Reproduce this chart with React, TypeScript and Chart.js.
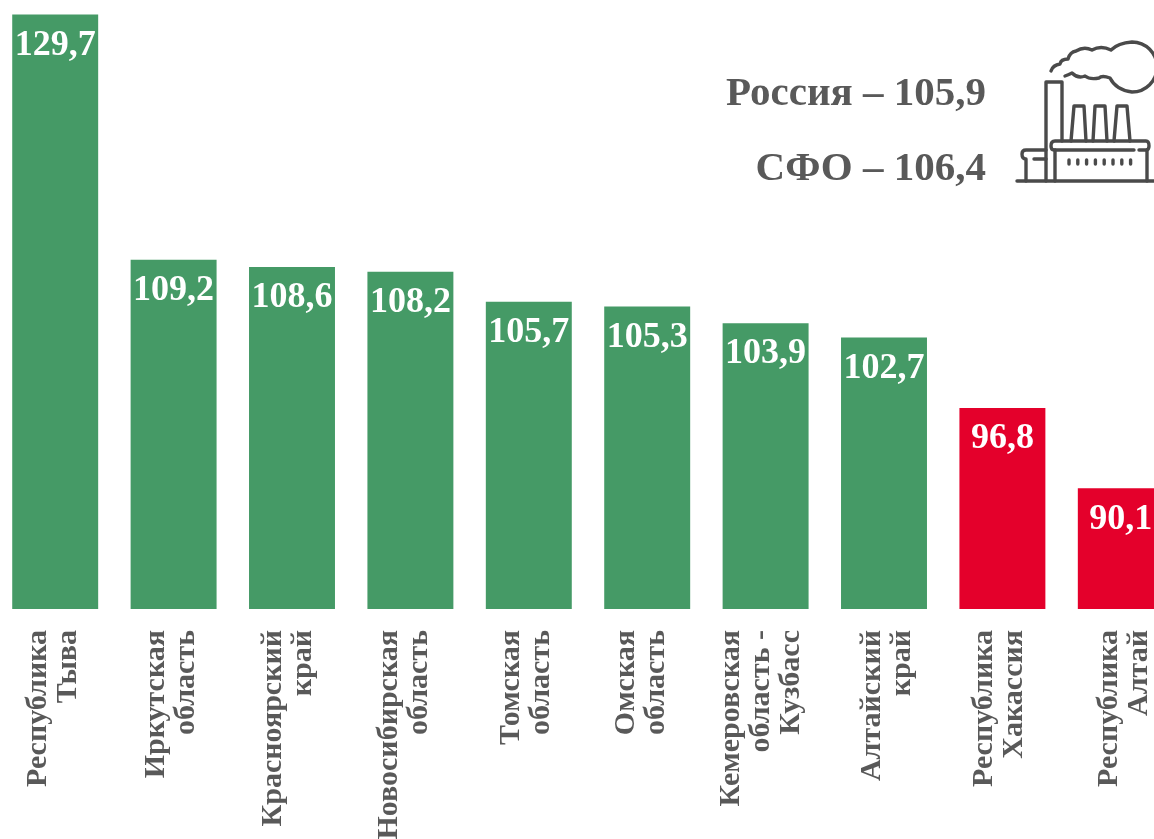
import React, { useEffect, useRef } from "react";
import { Chart, registerables } from "chart.js";

Chart.register(...registerables);

const categories: string[][] = [
  ["Республика", "Тыва"],
  ["Иркутская", "область"],
  ["Красноярский", "край"],
  ["Новосибирская", "область"],
  ["Томская", "область"],
  ["Омская", "область"],
  ["Кемеровская", "область -", "Кузбасс"],
  ["Алтайский", "край"],
  ["Республика", "Хакассия"],
  ["Республика", "Алтай"],
];
const values: number[] = [129.7, 109.2, 108.6, 108.2, 105.7, 105.3, 103.9, 102.7, 96.8, 90.1];
const barColors: string[] = [
  "#459A66", "#459A66", "#459A66", "#459A66", "#459A66",
  "#459A66", "#459A66", "#459A66", "#E4002B", "#E4002B",
];
const notes: string[] = ["Россия – 105,9", "СФО – 106,4"];

const SERIF = '"Liberation Serif", serif';
const TEXT = "#595959";
const ICON = "#4a4a4a";
const tickShift: number[] = [-32, -32, -34, -36, -33, -36, -49, -27, -33, -27];

const tickPlacement = {
  id: "tickPlacement",
  beforeDraw(chart: any) {
    const scale = chart.scales.x;
    scale.getLabelItems().forEach((item: any, i: number) => {
      item.options.translation[0] = scale.getPixelForTick(i) + tickShift[i];
    });
  },
};

const valueLabels = {
  id: "valueLabels",
  afterDatasetsDraw(chart: any) {
    const { ctx } = chart;
    const meta = chart.getDatasetMeta(0);
    ctx.save();
    ctx.fillStyle = "#ffffff";
    ctx.font = `bold 36px ${SERIF}`;
    ctx.textAlign = "center";
    ctx.textBaseline = "middle";
    meta.data.forEach((bar: any, i: number) => {
      ctx.fillText(values[i].toFixed(1).replace(".", ","), bar.x, bar.y + 31);
    });
    ctx.restore();
  },
};

const notesAndIcon = {
  id: "notesAndIcon",
  afterDraw(chart: any) {
    const { ctx } = chart;
    ctx.save();
    ctx.translate(4, 0); // canvas is shifted 4px left of the page
    ctx.fillStyle = TEXT;
    ctx.font = `bold 41px ${SERIF}`;
    ctx.textAlign = "right";
    ctx.textBaseline = "middle";
    ctx.fillText(notes[0], 986, 94);
    ctx.fillText(notes[1], 986, 169);

    ctx.strokeStyle = ICON;
    ctx.lineWidth = 3.4;
    ctx.lineJoin = "round";
    ctx.lineCap = "round";
    const paths = [
      "M1017,181 L1154,181",
      "M1046,181 L1046,82 L1062,82 L1062,141",
      "M1071,141 L1074,106 L1084,106 L1086,141",
      "M1093,141 L1095,106 L1105,106 L1107,141",
      "M1114,141 L1117,106 L1127,106 L1130,141",
      "M1134,150 L1054,150 Q1051,150 1051,146 Q1051,141 1055,141 L1146,141 Q1149,141 1149,146 Q1149,150 1146,150 L1139,150",
      "M1055,150 L1055,181 M1147,150 L1147,181",
      "M1046,150 L1026,150 Q1022,150 1022,154 Q1022,159 1026,159 L1026,181",
      "M1034,159 L1046,159",
      "M1051,71 Q1053,65 1060,64 Q1061,59 1068,59 Q1070,52 1076,51 Q1084,46 1092,50 Q1101,45 1111,50 Q1118,43 1132,42 A25,25 0 0 1 1132,92 Q1116,90 1110,78 Q1102,75 1099,78 Q1090,80 1085,76 Q1078,79 1072,73 Q1068,75 1065,76",
    ];
    paths.forEach((d) => ctx.stroke(new Path2D(d)));
    for (let k = 0; k < 8; k++) {
      ctx.beginPath();
      ctx.moveTo(1069 + k * 8.8, 160);
      ctx.lineTo(1069 + k * 8.8, 164);
      ctx.stroke();
    }
    ctx.restore();
  },
};

export default function App() {
  const ref = useRef<HTMLCanvasElement | null>(null);
  useEffect(() => {
    document.body.style.margin = "0";
    const chart = new Chart(ref.current as HTMLCanvasElement, {
      type: "bar",
      data: {
        labels: categories as any,
        datasets: [
          {
            data: values,
            backgroundColor: barColors,
            barPercentage: 0.726,
            categoryPercentage: 1,
          },
        ],
      },
      options: {
        animation: false,
        responsive: false,
        layout: { padding: { top: 11, left: 0, right: 0, bottom: 0 } },
        plugins: { legend: { display: false }, title: { display: false }, tooltip: { enabled: false } },
        scales: {
          x: {
            grid: { display: false, drawTicks: false },
            border: { display: false },
            afterFit: (s: any) => {
              s.height = 230;
              s.paddingLeft = 0;
              s.paddingRight = 0;
            },
            ticks: {
              autoSkip: false,
              minRotation: 90,
              maxRotation: 90,
              padding: 21,
              color: TEXT,
              font: { family: SERIF, size: 30, weight: "bold", lineHeight: 1 },
            },
          },
          y: { display: false, min: 80, max: 130 },
        },
      },
      plugins: [tickPlacement, valueLabels, notesAndIcon],
    } as any);
    return () => chart.destroy();
  }, []);
  return (
    <div style={{ width: 1154, height: 839, overflow: "hidden", position: "relative" }}>
      <canvas ref={ref} width={1184} height={839} style={{ position: "absolute", left: -4, top: 0, display: "block" }} />
    </div>
  );
}
